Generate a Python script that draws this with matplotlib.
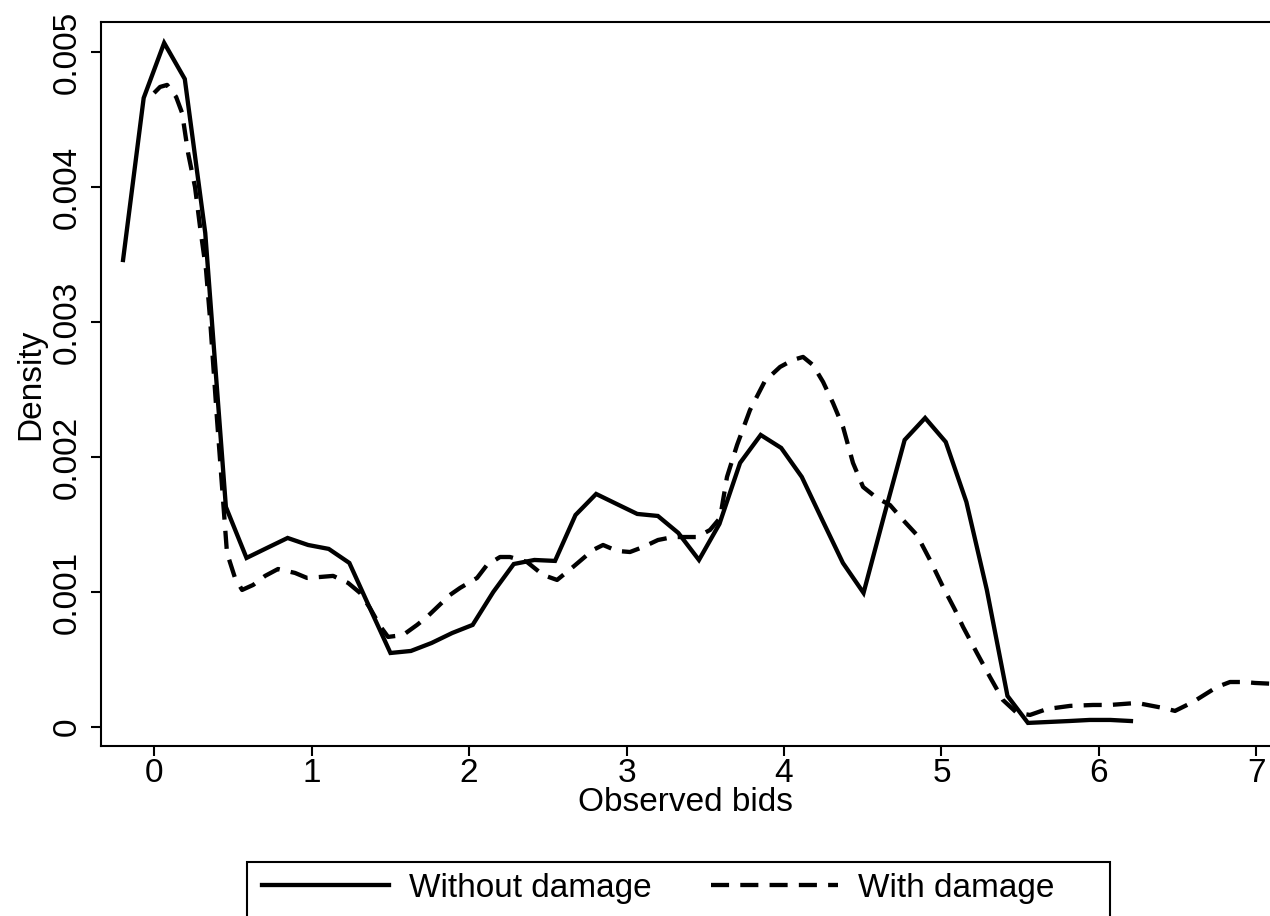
"""Kernel density of observed bids, with and without damage (Stata-style look)."""
import matplotlib
matplotlib.use("Agg")
import matplotlib.pyplot as plt
from matplotlib.patches import Rectangle

plt.rcParams["font.family"] = ["Liberation Sans", "DejaVu Sans"]

# --- data --------------------------------------------------------------
bids_without = [
    -0.197, -0.066, 0.064, 0.195, 0.325, 0.456, 0.587, 0.717, 0.848, 0.978,
    1.109, 1.240, 1.370, 1.501, 1.631, 1.762, 1.893, 2.023, 2.154, 2.284,
    2.415, 2.546, 2.676, 2.807, 2.937, 3.068, 3.199, 3.329, 3.460, 3.590,
    3.721, 3.852, 3.982, 4.113, 4.243, 4.374, 4.505, 4.635, 4.766, 4.896,
    5.027, 5.158, 5.288, 5.419, 5.549, 5.680, 5.811, 5.941, 6.072, 6.203,
]
density_without = [
    3.459, 4.659, 5.067, 4.800, 3.659, 1.630, 1.252, 1.326, 1.400, 1.348,
    1.319, 1.215, 0.881, 0.548, 0.563, 0.622, 0.696, 0.756, 1.000, 1.207,
    1.237, 1.230, 1.570, 1.726, 1.652, 1.578, 1.563, 1.437, 1.237, 1.504,
    1.956, 2.163, 2.067, 1.852, 1.533, 1.215, 0.993, 1.563, 2.126, 2.289,
    2.111, 1.667, 1.015, 0.230, 0.030, 0.037, 0.044, 0.052, 0.052, 0.044,
]

bids_with = [
    0.000, 0.038, 0.083, 0.140, 0.178, 0.216, 0.260, 0.292, 0.330, 0.356,
    0.400, 0.438, 0.463, 0.514, 0.559, 0.629, 0.705, 0.787, 0.895, 0.971,
    1.054, 1.137, 1.232, 1.308, 1.371, 1.435, 1.486, 1.581, 1.670, 1.733,
    1.879, 1.943, 2.051, 2.114, 2.197, 2.260, 2.368, 2.470, 2.559, 2.660,
    2.787, 2.851, 2.940, 3.022, 3.105, 3.200, 3.295, 3.448, 3.530, 3.594,
    3.638, 3.702, 3.784, 3.879, 3.975, 4.057, 4.121, 4.184, 4.248, 4.311,
    4.375, 4.438, 4.502, 4.590, 4.673, 4.756, 4.844, 4.927, 5.010, 5.086,
    5.137, 5.225, 5.308, 5.390, 5.479, 5.562, 5.670, 5.816, 5.962, 6.070,
    6.241, 6.406, 6.483, 6.597, 6.749, 6.832, 6.927, 6.990, 7.117,
]
density_with = [
    4.696, 4.741, 4.756, 4.667, 4.548, 4.252, 4.000, 3.704, 3.385, 3.015,
    2.274, 1.681, 1.289, 1.104, 1.015, 1.052, 1.119, 1.170, 1.141, 1.104,
    1.111, 1.119, 1.067, 0.993, 0.881, 0.748, 0.667, 0.681, 0.756, 0.815,
    0.978, 1.030, 1.104, 1.200, 1.259, 1.259, 1.222, 1.126, 1.089, 1.185,
    1.311, 1.348, 1.304, 1.296, 1.333, 1.385, 1.407, 1.407, 1.459, 1.548,
    1.852, 2.089, 2.348, 2.563, 2.667, 2.719, 2.741, 2.681, 2.556, 2.400,
    2.222, 1.956, 1.778, 1.696, 1.644, 1.533, 1.422, 1.237, 1.037, 0.867,
    0.741, 0.548, 0.370, 0.200, 0.104, 0.089, 0.133, 0.156, 0.163, 0.163,
    0.178, 0.141, 0.119, 0.185, 0.296, 0.333, 0.333, 0.326, 0.319,
]

x_ticks = [0, 1, 2, 3, 4, 5, 6, 7]
y_ticks = [0, 0.001, 0.002, 0.003, 0.004, 0.005]
y_ticklabels = ["0", "0.001", "0.002", "0.003", "0.004", "0.005"]

# values above were read in units of 0.001
density_without = [v / 1000 for v in density_without]
density_with = [v / 1000 for v in density_with]

W, H = 1270, 916

# --- figure -------------------------------------------------------------
fig = plt.figure(figsize=(W / 100, H / 100), dpi=100, facecolor="white")
ax = fig.add_axes([101 / W, 1 - 746 / H, 1 - 101 / W, (746 - 22) / H])

line_wo, = ax.plot(bids_without, density_without, color="black", lw=3.1,
                   solid_joinstyle="miter", label="Without damage")
line_w, = ax.plot(bids_with, density_with, color="black", lw=3.1,
                  dashes=(4.2, 2.6), label="With damage")

ax.set_xlim(-0.337, 7.086)
ax.set_ylim(-0.000141, 0.005222)
ax.set_xticks(x_ticks)
ax.set_yticks(y_ticks, y_ticklabels)
ax.tick_params(axis="both", direction="out", length=7, width=1.5,
               labelsize=24, pad=2, color="black")
ax.tick_params(axis="y", pad=6)
for lab in ax.get_yticklabels():
    lab.set_rotation(90)
    lab.set_va("center")
for side in ("left", "bottom", "top"):
    ax.spines[side].set_linewidth(1.5)
ax.spines["right"].set_visible(False)

ax.set_xlabel("Observed bids", fontsize=24, labelpad=-2)
ax.set_ylabel("Density", fontsize=24, labelpad=4)

# legend: entries without frame, box drawn separately (runs off the bottom edge)
fig.legend(handles=[line_wo, line_w], loc="center left",
           bbox_to_anchor=(262 / W, 1 - 888 / H), ncol=2, fontsize=24,
           frameon=False, handlelength=3.8, handletextpad=0.6,
           columnspacing=1.8, borderpad=0, borderaxespad=0)
fig.patches.append(Rectangle((247 / W, -0.02), (1110 - 247) / W, (1 - 862 / H) + 0.02,
                             transform=fig.transFigure, fill=False,
                             edgecolor="black", linewidth=1.5))

fig.savefig("out.png", dpi=100, facecolor="white")
